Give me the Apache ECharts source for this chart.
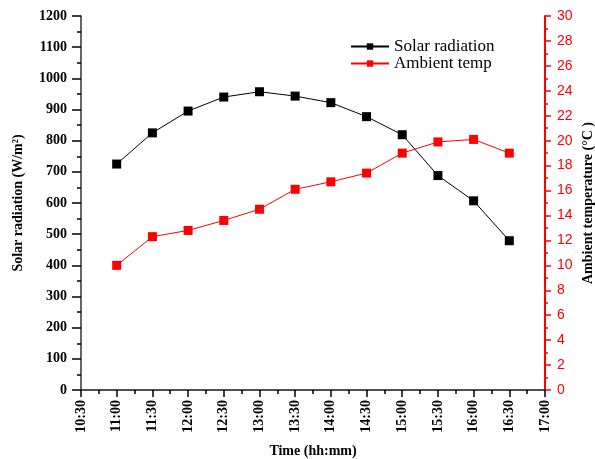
<!DOCTYPE html>
<html><head><meta charset="utf-8">
<script src="https://cdn.jsdelivr.net/npm/echarts@6/dist/echarts.min.js"></script>
<style>html,body{margin:0;padding:0;background:#fff}#c{width:595px;height:459px}</style>
</head><body><div id="c"></div>
<script>
const times = ['11:00','11:30','12:00','12:30','13:00','13:30','14:00','14:30','15:00','15:30','16:00','16:30'];
const solarRadiation = [725, 825, 895, 940, 957, 943, 922, 877, 819, 688, 607, 479];
const ambientTemp = [10.0, 12.3, 12.8, 13.6, 14.5, 16.1, 16.7, 17.4, 19.0, 19.9, 20.1, 19.0];

const toH = t => { const [h, m] = t.split(':').map(Number); return h + m / 60; };
const fmt = v => { const h = Math.floor(v + 1e-9); const m = Math.round((v - h) * 60); return h + ':' + (m < 10 ? '0' + m : m); };
const serif = '"Liberation Serif", "Times New Roman", serif';

const chart = echarts.init(document.getElementById('c'));
chart.setOption({
  animation: false,
  grid: { left: 81, right: 50, top: 16, bottom: 69, containLabel: false, outerBoundsMode: 'none' },
  legend: {
    orient: 'vertical', left: 345, top: 33, itemGap: 0, itemWidth: 38, itemHeight: 8,
    textStyle: { fontFamily: serif, fontSize: 17, color: '#000' },
    data: ['Solar radiation', 'Ambient temp']
  },
  xAxis: [{
    type: 'value', min: 10.5, max: 17, interval: 0.5,
    name: 'Time (hh:mm)', nameLocation: 'middle', nameGap: 54,
    nameTextStyle: { fontFamily: serif, fontSize: 14, fontWeight: 'bold', color: '#000' },
    axisLine: { lineStyle: { color: '#000', width: 1.5 } },
    axisTick: { inside: false, length: 7, lineStyle: { color: '#000', width: 1.5 } },
    minorTick: { show: true, splitNumber: 2, length: 4, lineStyle: { color: '#000', width: 1.5 } },
    splitLine: { show: false },
    axisLabel: { rotate: 90, formatter: fmt, fontFamily: serif, fontSize: 14, fontWeight: 'bold', color: '#000', margin: 10 }
  }, {
    type: 'value', position: 'top', min: 10.5, max: 17,
    axisLine: { show: true, lineStyle: { color: '#555', width: 1.5 } },
    axisTick: { show: false }, axisLabel: { show: false }, splitLine: { show: false }
  }],
  yAxis: [{
    type: 'value', min: 0, max: 1200, interval: 100,
    name: 'Solar radiation (W/m²)', nameLocation: 'middle', nameGap: 56,
    nameTextStyle: { fontFamily: serif, fontSize: 14, fontWeight: 'bold', color: '#000' },
    axisLine: { show: true, lineStyle: { color: '#333', width: 1.5 } },
    axisTick: { show: true, length: 9, lineStyle: { color: '#000', width: 1.5 } },
    minorTick: { show: true, splitNumber: 2, length: 4, lineStyle: { color: '#000', width: 1.5 } },
    splitLine: { show: false },
    axisLabel: { formatter: v => String(v), fontFamily: serif, fontSize: 14, fontWeight: 'bold', color: '#000', margin: 14 }
  }, {
    type: 'value', position: 'right', min: 0, max: 30, interval: 2,
    name: 'Ambient temperature (°C )', nameLocation: 'middle', nameGap: 36, nameRotate: 90,
    nameMoveOverlap: false,
    nameTextStyle: { fontFamily: serif, fontSize: 14, fontWeight: 'bold', color: '#000' },
    axisLine: { show: true, lineStyle: { color: '#ff0000', width: 2 } },
    axisTick: { show: true, length: 6, lineStyle: { color: '#ff0000', width: 1.5 } },
    minorTick: { show: true, splitNumber: 2, length: 3, lineStyle: { color: '#ff0000', width: 1.5 } },
    splitLine: { show: false },
    axisLabel: { formatter: v => String(v), fontFamily: '"Liberation Sans", Arial, sans-serif', fontSize: 14, color: '#ff0000', margin: 12 }
  }],
  series: [{
    name: 'Solar radiation', type: 'line', xAxisIndex: 0, yAxisIndex: 0,
    data: times.map((t, i) => [toH(t), solarRadiation[i]]),
    symbol: 'rect', symbolSize: 9,
    lineStyle: { color: '#000', width: 1 }, itemStyle: { color: '#000' }
  }, {
    name: 'Ambient temp', type: 'line', xAxisIndex: 0, yAxisIndex: 1,
    data: times.map((t, i) => [toH(t), ambientTemp[i]]),
    symbol: 'rect', symbolSize: 9,
    lineStyle: { color: '#ff0000', width: 1 }, itemStyle: { color: '#ff0000' }
  }]
});
</script></body></html>
